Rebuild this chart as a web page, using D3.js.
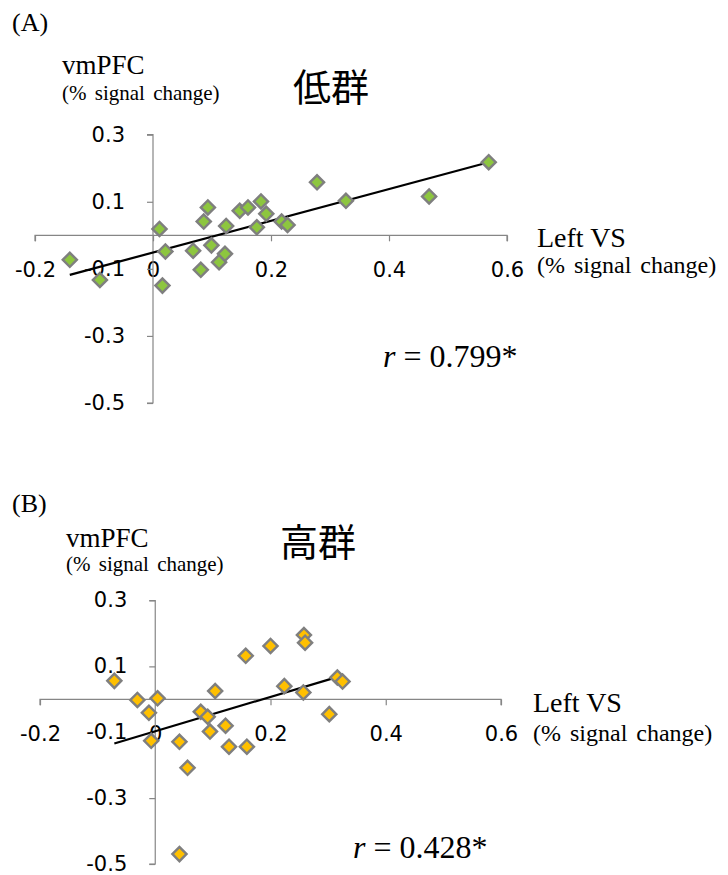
<!DOCTYPE html>
<html><head><meta charset="utf-8">
<script src="https://cdn.jsdelivr.net/npm/d3@7/dist/d3.min.js"></script>
<style>html,body{margin:0;padding:0;background:#fff;}svg{display:block;}</style>
</head><body>
<svg id="chart" width="728" height="875"></svg>
<script>
// ---- data ----
const xTicks = [-0.2, 0, 0.2, 0.4, 0.6];
const yTicks = [-0.5, -0.3, -0.1, 0.1, 0.3];
const panelLabels = ["(A)", "(B)"];
const groupNames = ["低群", "高群"];
const rValues = ["0.799*", "0.428*"];
const yAxisTitle = ["vmPFC", "(% signal change)"];
const xAxisTitle = ["Left VS", "(% signal change)"];

const lowX = [-0.141, -0.090, 0.011, 0.021, 0.016, 0.068, 0.081, 0.086, 0.093, 0.099, 0.112, 0.122,
              0.124, 0.147, 0.161, 0.176, 0.183, 0.192, 0.218, 0.228, 0.278, 0.327, 0.468, 0.569];
const lowY = [-0.073, -0.133, 0.019, -0.048, -0.150, -0.046, -0.103, 0.041, 0.083, -0.030, -0.080, -0.055,
              0.028, 0.073, 0.083, 0.024, 0.101, 0.064, 0.041, 0.031, 0.158, 0.103, 0.116, 0.218];
const lowTrendX = [-0.141, 0.569];
const lowTrendY = [-0.118, 0.218];

const highX = [-0.071, -0.031, -0.011, 0.004, -0.007, 0.042, 0.056, 0.042, 0.079, 0.091, 0.095, 0.104,
               0.122, 0.128, 0.159, 0.157, 0.200, 0.224, 0.258, 0.260, 0.257, 0.302, 0.316, 0.325];
const highY = [0.056, -0.002, -0.041, 0.003, -0.126, -0.129, -0.208, -0.470, -0.038, -0.053, -0.098, 0.025,
               -0.080, -0.144, -0.144, 0.132, 0.162, 0.040, 0.195, 0.172, 0.021, -0.045, 0.066, 0.054];
const highTrendX = [-0.071, 0.324];
const highTrendY = [-0.134, 0.072];

// ---- layout ----
const svg = d3.select("#chart");
const serif = "'Liberation Serif', 'Times New Roman', serif";
const sans = "'DejaVu Sans', Verdana, sans-serif";
const cjk = "'Noto Sans CJK JP', 'Noto Sans CJK SC', sans-serif";
const fmt = d => String(+d.toFixed(1));   // plain hyphen minus, like the original

const panels = [
  { xs: lowX, ys: lowY, tx: lowTrendX, ty: lowTrendY, fill: "#8DC63F",
    xr: [35, 507], yr: [403, 134.7],
    lab: [12, 31], ytitle: [62, 74, 100], group: [331, 101], xtitle: [537, 247, 273], rpos: [383, 367] },
  { xs: highX, ys: highY, tx: highTrendX, ty: highTrendY, fill: "#FFC000",
    xr: [40, 501], yr: [864, 600.5],
    lab: [12, 512], ytitle: [66, 547, 571], group: [318, 556], xtitle: [533, 712, 741], rpos: [353, 858] }
];

panels.forEach((p, i) => {
  const g = svg.append("g");
  const x = d3.scaleLinear().domain([-0.2, 0.6]).range(p.xr);
  const y = d3.scaleLinear().domain([-0.5, 0.3]).range(p.yr);

  const xa = g.append("g").attr("transform", `translate(0,${y(0)})`)
    .call(d3.axisBottom(x).tickValues(xTicks).tickSize(6).tickPadding(21).tickFormat(fmt));
  const ya = g.append("g").attr("transform", `translate(${x(0)},0)`)
    .call(d3.axisLeft(y).tickValues(yTicks).tickSize(6).tickPadding(22).tickFormat(fmt));
  [xa, ya].forEach(a => {
    a.select(".domain").attr("stroke", "#868686").attr("stroke-width", 1.2);
    a.selectAll(".tick line").attr("stroke", "#868686").attr("stroke-width", 1.2);
    a.selectAll(".tick text").attr("fill", "#000").attr("font-family", sans).attr("font-size", 21);
  });
  ya.select(".domain").attr("d", `M-6,${y(0.3)}H0V${y(-0.5)}H-6`);
  xa.select(".domain").attr("d", `M${x(-0.2)},6V0H${x(0.6)}V6`);
  ya.selectAll(".tick text").attr("dy", "0.3em");

  g.append("line")
    .attr("x1", x(p.tx[0])).attr("y1", y(p.ty[0]))
    .attr("x2", x(p.tx[1])).attr("y2", y(p.ty[1]))
    .attr("stroke", "#000").attr("stroke-width", 2.2);

  const sym = d3.symbol().type(d3.symbolSquare).size(100);
  g.selectAll("path.pt").data(p.xs.map((v, k) => [v, p.ys[k]])).join("path")
    .attr("class", "pt")
    .attr("d", sym)
    .attr("transform", d => `translate(${x(d[0])},${y(d[1])}) rotate(45)`)
    .attr("fill", p.fill).attr("stroke", "#7F7F7F").attr("stroke-width", 2.4);

  g.append("text").attr("x", p.lab[0]).attr("y", p.lab[1]).text(panelLabels[i])
    .attr("font-family", serif).attr("font-size", 26);
  g.append("text").attr("x", p.ytitle[0]).attr("y", p.ytitle[1]).text(yAxisTitle[0])
    .attr("font-family", serif).attr("font-size", 27);
  g.append("text").attr("x", p.ytitle[0]).attr("y", p.ytitle[2]).text(yAxisTitle[1])
    .attr("font-family", serif).attr("font-size", 21).attr("word-spacing", 3);
  g.append("text").attr("x", p.group[0]).attr("y", p.group[1]).text(groupNames[i])
    .attr("font-family", cjk).attr("font-size", 38).attr("text-anchor", "middle");
  g.append("text").attr("x", p.xtitle[0]).attr("y", p.xtitle[1]).text(xAxisTitle[0])
    .attr("font-family", serif).attr("font-size", 28);
  g.append("text").attr("x", p.xtitle[0]).attr("y", p.xtitle[2]).text(xAxisTitle[1])
    .attr("font-family", serif).attr("font-size", 24).attr("word-spacing", 3);
  const rt = g.append("text").attr("x", p.rpos[0]).attr("y", p.rpos[1])
    .attr("font-family", serif).attr("font-size", 32);
  rt.append("tspan").attr("font-style", "italic").text("r");
  rt.append("tspan").text(" = " + rValues[i]);
});
</script>
</body></html>
